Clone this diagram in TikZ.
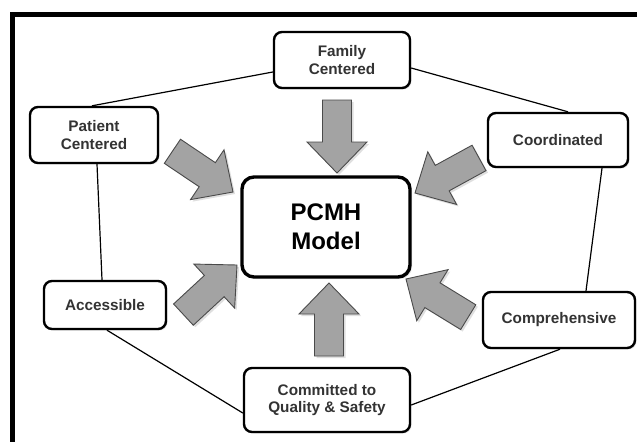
\documentclass[tikz,border=0pt]{standalone}
\usepackage{fontspec}
\setmainfont{Liberation Sans}
\usetikzlibrary{calc,shadows}
\definecolor{txt}{HTML}{333333}
\definecolor{arrfill}{HTML}{A3A3A3}
\definecolor{arrline}{HTML}{4A4A4A}
\tikzset{
  box/.style={draw=black, line width=2.4pt, rounded corners=8pt, fill=white,
    font=\bfseries\fontsize{15.3}{17.5}\selectfont, text=txt, align=center,
    inner sep=0pt, drop shadow={opacity=0.18, shadow xshift=1.5pt, shadow yshift=-1.5pt}},
  bigbox/.style={draw=black, line width=3.4pt, rounded corners=12pt, fill=white,
    font=\bfseries\fontsize{24}{29}\selectfont, text=black, align=center,
    inner sep=0pt, minimum width=168pt, minimum height=100pt,
    drop shadow={opacity=0.22, shadow xshift=2pt, shadow yshift=-2pt}},
  link/.style={draw=black, line width=1.2pt},
  blockarr/.style={fill=arrfill, draw=arrline, line width=0.9pt, line join=miter,
    drop shadow={opacity=0.25, shadow xshift=2pt, shadow yshift=-2pt}},
  frame/.style={draw=black, line width=5pt}
}
\newcommand{\blockarrow}[2]{%
  \begin{scope}[shift={#1}, rotate=#2]
    \path[blockarr] (0,0) -- (-31,30) -- (-31,14.5) -- (-73,14.5) -- (-73,-14.5)
      -- (-31,-14.5) -- (-31,-30) -- cycle;
  \end{scope}}
\begin{document}
\begin{tikzpicture}[x=1pt,y=-1pt]
\useasboundingbox (0,0) rectangle (637,442);
\fill[white] (0,0) rectangle (637,442);
\draw[frame] (637,14.5) -- (12.5,14.5) -- (12.5,442);

\node[box, minimum width=136pt, minimum height=56pt] (fam) at (342,60) {Family\\Centered};
\node[box, minimum width=128pt, minimum height=56pt] (pat) at (94,135) {Patient\\Centered};
\node[box, minimum width=140pt, minimum height=54pt] (coo) at (558,140) {Coordinated};
\node[bigbox] (pcmh) at (326,227) {PCMH\\Model};
\node[box, minimum width=122pt, minimum height=48pt] (acc) at (105,305) {Accessible};
\node[box, minimum width=152pt, minimum height=56pt] (com) at (559,320) {Comprehensive};
\node[box, minimum width=166pt, minimum height=64pt] (cqs) at (327,400) {Committed to\\Quality \& Safety};

\draw[link] ($(fam.west)+(0,12)$) -- ($(pat.north)+(-2,0)$);
\draw[link] ($(fam.east)+(0,8)$) -- ($(coo.north)+(10,0)$);
\draw[link] ($(pat.south)+(3,0)$) -- ($(acc.north)+(-3,0)$);
\draw[link] ($(coo.south)+(44,0)$) -- ($(com.north)+(27,0)$);
\draw[link] ($(acc.south)+(2,0)$) -- ($(cqs.west)+(0,13)$);
\draw[link] ($(cqs.east)+(0,5)$) -- ($(com.south)+(1,0)$);

\blockarrow{(337,173)}{-90}
\blockarrow{(329,283)}{90}
\blockarrow{(237,265)}{42.8}
\blockarrow{(233,192)}{-33.9}
\blockarrow{(415,193)}{208.7}
\blockarrow{(406,279)}{148.5}
\end{tikzpicture}
\end{document}
